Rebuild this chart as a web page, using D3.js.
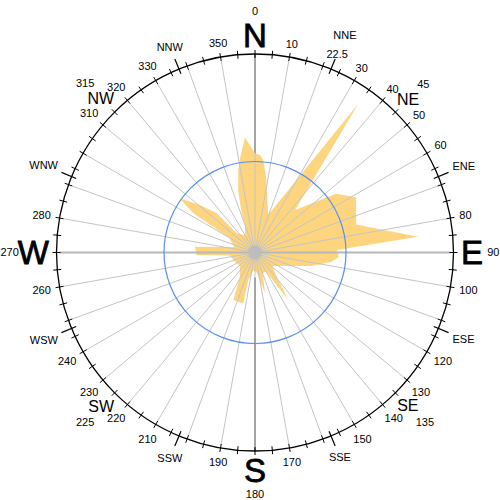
<!DOCTYPE html>
<html><head><meta charset="utf-8">
<script src="https://cdn.jsdelivr.net/npm/d3@7"></script>
<style>html,body{margin:0;padding:0;background:#fff;}svg{display:block;}</style>
</head><body>
<svg id="chart" width="500" height="500"></svg>
<script>
// ---- data (direction in degrees clockwise from north, frequency in %) ----
const roseDirections = [0, 2.9, 5.1, 8.3, 13.2, 19.5, 34.8, 43.3, 54, 61.3, 74.5, 84.5, 88.3, 93, 96.8, 103.4,
  128, 136, 145, 150, 160, 166, 175, 185, 193.7, 193, 204.5, 211.8, 230, 245, 263, 267.5, 275.5, 285,
  300, 301.5, 302.4, 305.6, 308, 310.8, 315.7, 316.4, 330, 341, 341.3, 344.6, 347, 348.8, 351, 355];
const roseValues = [10.0, 9.83, 9.36, 7.72, 5.44, 4.03, 18.24, 5.88, 10.08, 11.61, 10.58, 16.52, 8.26, 8.46, 7.78, 5.87,
  2.22, 2.92, 5.84, 2.22, 2.22, 4.23, 2.02, 1.81, 2.85, 5.26, 5.26, 2.87, 2.02, 2.22, 2.54, 5.88, 6.08, 2.17,
  3.02, 5.04, 7.36, 9.37, 8.31, 7.33, 5.52, 2.67, 2.02, 3.10, 4.17, 6.35, 7.50, 8.64, 9.61, 11.61];
const maxValue = 20;          // value at the outer ring
const refRingValue = 9.17;    // blue reference ring
const gridAngles = d3.range(0, 360, 10);
const tickAngles = d3.range(0, 360, 5);
const numberLabels = ["10","22.5","30","40","50","60","80","100","120","130","140","150","170","190",
  "210","220","230","240","260","280","310","320","330","350"];
const cardinalNames = ["N","E","S","W"];
const cardinalAngles = [0, 90, 180, 270];
const interNames = ["NE","SE","SW","NW"];
const interAngles = [45, 135, 225, 315];
const secondaryNames = ["NNE","ENE","ESE","SSE","SSW","WSW","WNW","NNW"];
const secondaryAngles = [22.5, 67.5, 112.5, 157.5, 202.5, 247.5, 292.5, 337.5];

// ---- layout ----
const W = 500;
const cx = 255, cy = 252.5, R = 198.5;
const FONT = "'Liberation Sans', Arial, Helvetica, sans-serif";
const svg = d3.select("#chart");
const g = svg.append("g").attr("transform", `translate(${cx},${cy})`);
const r = d3.scaleLinear().domain([0, maxValue]).range([0, R]);
const rad = d => d * Math.PI / 180;
const px = (a, rr) => rr * Math.sin(rad(a));
const py = (a, rr) => -rr * Math.cos(rad(a));

// dark north-south axis (under the rose)
[0, 180].forEach(a => {
  g.append("line").attr("x1", px(a, 25)).attr("y1", py(a, 25)).attr("x2", px(a, R)).attr("y2", py(a, R))
    .attr("stroke", "#858585").attr("stroke-width", 2);
});

// rose area
const line = d3.lineRadial().angle(d => rad(d[0])).radius(d => r(d[1])).curve(d3.curveLinearClosed);
g.append("path").datum(roseDirections.map((d, i) => [d, roseValues[i]]))
  .attr("d", line).attr("fill", "#fed57f").attr("stroke", "none");

// radial grid
g.selectAll("line.grid").data(gridAngles).join("line").attr("class", "grid")
  .attr("x1", 0).attr("y1", 0)
  .attr("x2", d => px(d, R - 3)).attr("y2", d => py(d, R - 3))
  .attr("stroke", d => (d === 90 || d === 270) ? "#b8b8b8" : "#c4c4c4")
  .attr("stroke-width", d => (d === 90 || d === 270) ? 2 : 1);

g.append("circle").attr("r", 7).attr("fill", "#bdbdbd");

// reference ring
g.append("circle").attr("r", r(refRingValue)).attr("fill", "none").attr("stroke", "#5a8ef0").attr("stroke-width", 1.2);

// outer ring and ticks
g.append("circle").attr("r", R).attr("fill", "none").attr("stroke", "#000").attr("stroke-width", 1.3);
g.selectAll("line.tick").data(tickAngles).join("line").attr("class", "tick")
  .attr("x1", d => px(d, R - 4)).attr("y1", d => py(d, R - 4))
  .attr("x2", d => px(d, R + 4)).attr("y2", d => py(d, R + 4))
  .attr("stroke", "#000").attr("stroke-width", 1);
g.selectAll("line.tick2").data(secondaryAngles).join("line").attr("class", "tick2")
  .attr("x1", d => px(d, R - 5)).attr("y1", d => py(d, R - 5))
  .attr("x2", d => px(d, R + 11)).attr("y2", d => py(d, R + 11))
  .attr("stroke", "#000").attr("stroke-width", 1.2);

// label placement
function halfExtent(node, a, size) {
  const w = node.getComputedTextLength();
  const h = 0.716 * size;
  return {ext: Math.abs(Math.sin(rad(a))) * w / 2 + Math.abs(Math.cos(rad(a))) * h / 2, w: w};
}
function addLabel(text, a, r0, size, heavy) {
  const t = g.append("text").text(text).attr("font-family", FONT).attr("font-size", size)
    .attr("text-anchor", "middle").attr("fill", "#000");
  if (heavy) t.attr("stroke", "#000").attr("stroke-width", 0.8);
  const m = halfExtent(t.node(), a, size);
  const rr = r0 + m.ext;
  let x = px(a, rr);
  // keep text inside the picture
  const minX = -cx + m.w / 2 + 0.5, maxX = W - cx - m.w / 2 - 0.5;
  x = Math.max(minX, Math.min(maxX, x));
  t.attr("x", x).attr("y", py(a, rr)).attr("dy", 0.358 * size);
  return {node: t, outer: rr + m.ext};
}

numberLabels.forEach(s => addLabel(s, +s, 207, 11));
interNames.forEach((s, i) => addLabel(s, interAngles[i], 204.5, 16));
interAngles.forEach(a => addLabel(String(a), a, 231, 11));
secondaryNames.forEach((s, i) => {
  const a = secondaryAngles[i];
  const taken = numberLabels.includes(String(a));
  addLabel(s, a, taken ? 227 : 214, 11);
});
cardinalNames.forEach((s, i) => {
  const a = cardinalAngles[i];
  const L = addLabel(s, a, 206, 33, true);
  const vertical = Math.abs(Math.cos(rad(a))) > 0.5;
  addLabel(String(a), a, L.outer + (vertical ? 8 : 5), 11);
});
</script>
</body></html>
